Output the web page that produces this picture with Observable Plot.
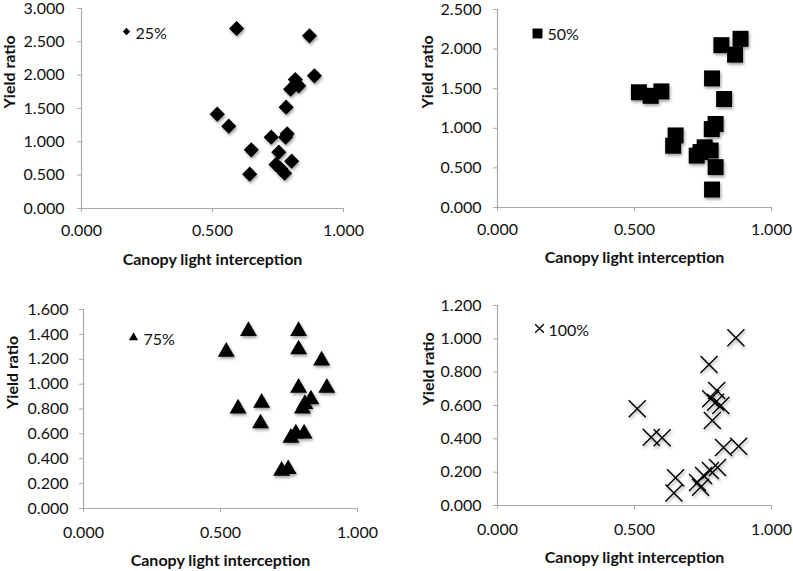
<!DOCTYPE html>
<html><head><meta charset="utf-8">
<script src="https://cdn.jsdelivr.net/npm/d3@7"></script>
<script src="https://cdn.jsdelivr.net/npm/@observablehq/plot@0.6"></script>
<style>
body{margin:0;background:#fff;}
#wrap{position:relative;width:793px;height:571px;font-family:Lato,sans-serif;overflow:hidden;}
.panel{position:absolute;}
</style></head><body><div id="wrap"></div>
<script>
// ---- data ----
const xTicks = [0, 0.5, 1];
const legendLabels = ["25%", "50%", "75%", "100%"];
const xTitle = "Canopy light interception";
const yTitle = "Yield ratio";

const x25 = [0.592,0.870,0.889,0.816,0.829,0.798,0.781,0.518,0.562,0.785,0.779,0.724,0.648,0.753,0.802,0.742,0.760,0.775,0.642];
const y25 = [2.70,2.59,1.99,1.935,1.84,1.79,1.52,1.415,1.235,1.12,1.07,1.07,0.88,0.845,0.71,0.66,0.595,0.53,0.515];
const yTicks25 = [0,0.5,1,1.5,2,2.5,3];

const x50 = [0.887,0.817,0.867,0.783,0.516,0.559,0.598,0.827,0.796,0.782,0.650,0.641,0.727,0.741,0.756,0.778,0.796,0.783];
const y50 = [2.13,2.05,1.93,1.63,1.455,1.41,1.466,1.37,1.055,0.99,0.91,0.78,0.655,0.70,0.76,0.72,0.51,0.227];
const yTicks50 = [0,0.5,1,1.5,2,2.5];

const x75 = [0.602,0.785,0.521,0.785,0.869,0.785,0.888,0.830,0.808,0.799,0.564,0.650,0.646,0.805,0.775,0.757,0.747,0.723];
const y75 = [1.426,1.426,1.26,1.279,1.19,0.97,0.97,0.877,0.84,0.804,0.804,0.85,0.684,0.603,0.603,0.568,0.316,0.303];
const yTicks75 = [0,0.2,0.4,0.6,0.8,1.0,1.2,1.4,1.6];

const x100 = [0.870,0.772,0.800,0.778,0.796,0.815,0.784,0.510,0.561,0.601,0.825,0.880,0.803,0.777,0.752,0.730,0.741,0.650,0.644];
const y100 = [1.006,0.846,0.69,0.64,0.62,0.60,0.51,0.58,0.41,0.407,0.348,0.355,0.228,0.21,0.18,0.138,0.11,0.166,0.075];
const yTicks100 = [0,0.2,0.4,0.6,0.8,1.0,1.2];

// ---- layout config ----
const panels = [
  {xs:x25, ys:y25, yt:yTicks25, ymax:3, label:legendLabels[0], symbol:"diamond2", r:6.8, lr:3.3,
   left:0, top:0, w:400, h:285, mL:81, mR:57, mT:8, mB:77, tpX:12, tpY:13, ytdx:-71.5, xtdy:51,
   legM:[45,23], legT:[54,25]},
  {xs:x50, ys:y50, yt:yTicks50, ymax:2.5, label:legendLabels[1], symbol:"square", r:9, lr:5.6,
   left:400, top:0, w:393, h:285, mL:97, mR:22, mT:9, mB:78, tpX:12, tpY:12, ytdx:-70, xtdy:50,
   legM:[40,24], legT:[50,25]},
  {xs:x75, ys:y75, yt:yTicks75, ymax:1.6, label:legendLabels[2], symbol:"triangle", r:6.3, lr:3.4,
   left:0, top:285, w:400, h:286, mL:83, mR:43, mT:24, mB:63, tpX:14, tpY:11, ytdx:-71, xtdy:52,
   legM:[50,28], legT:[60,30]},
  {xs:x100, ys:y100, yt:yTicks100, ymax:1.2, label:legendLabels[3], symbol:"times", r:7.8, lr:4,
   left:400, top:285, w:393, h:286, mL:97, mR:22, mT:20, mB:66, tpX:14, tpY:12, ytdx:-69, xtdy:52,
   legM:[42,23], legT:[51,25]}
];

const fmt = d3.format(".3f");
const axisColor = "#a9a9a9";
const textColor = "#111";
const wrap = document.getElementById("wrap");

for (const p of panels) {
  const data = p.xs.map((x, i) => ({x, y: p.ys[i]}));
  const isStroke = p.symbol === "times";
  const dotOpts = isStroke
    ? {x:"x", y:"y", symbol:p.symbol, r:p.r, stroke:"#000", strokeWidth:1.4}
    : {x:"x", y:"y", symbol:p.symbol, r:p.r, fill:"#000", stroke:"none"};
  const legOpts = isStroke
    ? {frameAnchor:"top-left", dx:p.legM[0], dy:p.legM[1], symbol:p.symbol, r:p.lr, stroke:"#000", strokeWidth:1.3}
    : {frameAnchor:"top-left", dx:p.legM[0], dy:p.legM[1], symbol:p.symbol, r:p.lr, fill:"#000", stroke:"none"};

  const plot = Plot.plot({
    width: p.w, height: p.h,
    marginLeft: p.mL, marginRight: p.mR, marginTop: p.mT, marginBottom: p.mB,
    style: {fontFamily: "Lato, sans-serif", fontSize: "16px", background: "transparent", overflow: "visible", color: textColor},
    x: {domain: [0, 1], label: null},
    y: {domain: [0, p.ymax], label: null},
    marks: [
      Plot.axisX({ticks: xTicks, tickFormat: fmt, tickSize: 4, tickPadding: p.tpX, stroke: axisColor, fill: textColor, label: null, fontSize: 16}),
      Plot.axisY({ticks: p.yt, tickFormat: fmt, tickSize: 4, tickPadding: p.tpY, stroke: axisColor, fill: textColor, label: null, fontSize: 16}),
      Plot.ruleY([0], {stroke: axisColor, strokeWidth: 1.2}),
      Plot.ruleX([0], {stroke: axisColor, strokeWidth: 1.2}),
      Plot.dot(data, dotOpts),
      Plot.dot([p.label], legOpts),
      Plot.text([p.label], {frameAnchor: "top-left", text: d => d, dx: p.legT[0], dy: p.legT[1], textAnchor: "start", lineAnchor: "middle", fontSize: 16, fill: textColor}),
      Plot.text([xTitle], {frameAnchor: "bottom", text: d => d, dy: p.xtdy, lineAnchor: "middle", fontSize: 16, fontWeight: "bold", fill: textColor}),
      Plot.text([yTitle], {frameAnchor: "left", text: d => d, dx: p.ytdx, rotate: -90, lineAnchor: "middle", fontSize: 16, fontWeight: "bold", fill: textColor})
    ]
  });
  plot.classList.add("panel");
  plot.style.left = p.left + "px";
  plot.style.top = p.top + "px";
  const dotGroups = plot.querySelectorAll('g[aria-label="dot"]');
  if (dotGroups.length) dotGroups[0].setAttribute("style", "filter: drop-shadow(1.5px 2.5px 1.5px rgba(0,0,0,0.38))");
  wrap.appendChild(plot);
}
</script>
</body></html>
